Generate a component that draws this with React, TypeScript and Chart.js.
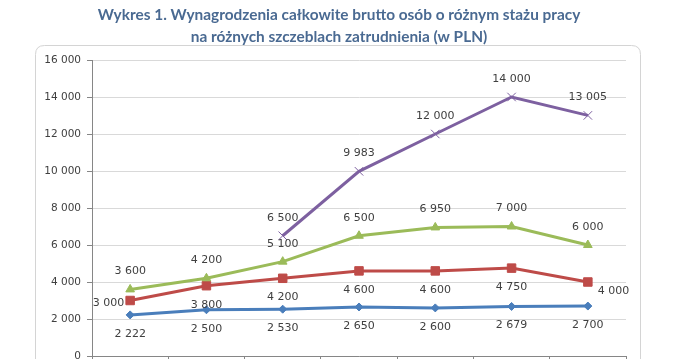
import React, { useEffect, useRef } from "react";
import { Chart, registerables } from "chart.js";

Chart.register(...registerables);

const titleLines = [
  "Wykres 1. Wynagrodzenia całkowite brutto osób o różnym stażu pracy",
  "na różnych szczeblach zatrudnienia (w PLN)",
];
const categories = ["1", "2", "3", "4", "5", "6", "7"];
const seriesBlue = [2222, 2500, 2530, 2650, 2600, 2679, 2700];
const seriesRed = [3000, 3800, 4200, 4600, 4600, 4750, 4000];
const seriesGreen = [3600, 4200, 5100, 6500, 6950, 7000, 6000];
const seriesPurple = [null, null, 6500, 9983, 12000, 14000, 13005];
const yTickValues = [0, 2000, 4000, 6000, 8000, 10000, 12000, 14000, 16000];

const labelPlacement: string[][] = [
  ["below", "below", "below", "below", "below", "below", "below"],
  ["left", "below", "below", "below", "below", "below", "right"],
  ["above", "above", "above", "above", "above", "above", "above"],
  ["above", "above", "above", "above", "above", "above", "above"],
];

const fmt = (v: number) => {
  const s = String(Math.round(v));
  return s.replace(/\B(?=(\d{3})+(?!\d))/g, " ");
};

const LABEL_FONT = '11px "DejaVu Sans"';

const framePlugin = {
  id: "frame",
  beforeDraw(chart: any) {
    const ctx = chart.ctx;
    ctx.save();
    ctx.fillStyle = "#ffffff";
    ctx.fillRect(0, 0, chart.width, chart.height);
    const x = 35.5, y = 45.5, w = 605, h = 340, r = 9;
    ctx.beginPath();
    ctx.moveTo(x + r, y);
    ctx.lineTo(x + w - r, y);
    ctx.quadraticCurveTo(x + w, y, x + w, y + r);
    ctx.lineTo(x + w, y + h);
    ctx.lineTo(x, y + h);
    ctx.lineTo(x, y + r);
    ctx.quadraticCurveTo(x, y, x + r, y);
    ctx.strokeStyle = "#d4d4d4";
    ctx.lineWidth = 1;
    ctx.stroke();
    ctx.fillStyle = "#4A6A92";
    ctx.font = 'bold 15.4px "Lato"';
    ctx.textAlign = "center";
    ctx.textBaseline = "middle";
    ctx.fillText(titleLines[0], 339, 15);
    ctx.fillText(titleLines[1], 339, 37);
    ctx.restore();
  },
};

const labelsPlugin = {
  id: "pointLabels",
  afterDatasetsDraw(chart: any) {
    const ctx = chart.ctx;
    ctx.save();
    ctx.font = LABEL_FONT;
    ctx.fillStyle = "#404040";
    chart.data.datasets.forEach((ds: any, di: number) => {
      const meta = chart.getDatasetMeta(di);
      meta.data.forEach((pt: any, i: number) => {
        const v = ds.data[i];
        if (v === null || v === undefined) return;
        const text = fmt(v);
        const pos = labelPlacement[di][i];
        let x = pt.x, y = pt.y;
        ctx.textBaseline = "middle";
        if (pos === "below") {
          ctx.textAlign = "center";
          y += 19;
        } else if (pos === "above") {
          ctx.textAlign = "center";
          y -= 18;
        } else if (pos === "left") {
          ctx.textAlign = "right";
          x -= 6;
          y += 3;
        } else {
          ctx.textAlign = "left";
          x += 10;
          y += 9;
        }
        ctx.fillText(text, x, y);
      });
    });
    ctx.restore();
  },
};

export default function App() {
  const ref = useRef<HTMLCanvasElement | null>(null);
  useEffect(() => {
    if (!ref.current) return;
    const mk = (label: string, data: any[], color: string, style: string, radius: number, order: number) => ({
      label,
      data,
      borderColor: color,
      backgroundColor: color,
      pointBackgroundColor: color,
      pointBorderColor: color,
      pointBorderWidth: 1,
      borderWidth: 3,
      pointStyle: style,
      pointRadius: radius,
      tension: 0,
      order,
    });
    const chart = new Chart(ref.current, {
      type: "line",
      data: {
        labels: categories,
        datasets: [
          mk("A", seriesBlue, "#4A7EBB", "rectRot", 4, 4),
          mk("B", seriesRed, "#BE4B48", "rect", 6, 3),
          mk("C", seriesGreen, "#9BBB59", "triangle", 5, 2),
          mk("D", seriesPurple, "#7D60A0", "crossRot", 6, 1),
        ],
      },
      options: {
        responsive: false,
        animation: false,
        devicePixelRatio: 1,
        layout: { autoPadding: false, padding: { top: 60, right: 55, left: 0, bottom: 0 } },
        plugins: {
          legend: { display: false },
          title: { display: false },
          tooltip: { enabled: false },
        },
        scales: {
          x: {
            type: "category",
            offset: true,
            grid: { offset: true, drawOnChartArea: false, tickLength: 4, tickColor: "#868686" },
            border: { color: "#868686" },
            ticks: { display: false },
            afterFit: (s: any) => {
              s.height = 3;
              s.paddingLeft = 0;
              s.paddingRight = 0;
              s.paddingTop = 0;
              s.paddingBottom = 0;
            },
          },
          y: {
            min: 0,
            max: 16000,
            afterBuildTicks: (s: any) => {
              s.ticks = yTickValues.map((v) => ({ value: v }));
            },
            ticks: {
              callback: (v: any) => fmt(Number(v)),
              color: "#404040",
              font: { family: "DejaVu Sans", size: 10.5 },
              padding: 6,
            },
            grid: { color: "#d9d9d9", tickLength: 5, tickColor: "#868686" },
            border: { color: "#868686" },
            afterFit: (s: any) => {
              s.width = 92;
              s.paddingTop = 0;
              s.paddingBottom = 0;
              s.paddingLeft = 0;
              s.paddingRight = 0;
            },
          },
        },
      },
      plugins: [framePlugin, labelsPlugin],
    });
    return () => chart.destroy();
  }, []);
  return (
    <div style={{ position: "absolute", left: 0, top: 0, width: 681, height: 359 }}>
      <canvas ref={ref} width={681} height={359} style={{ width: 681, height: 359, display: "block" }} />
    </div>
  );
}
